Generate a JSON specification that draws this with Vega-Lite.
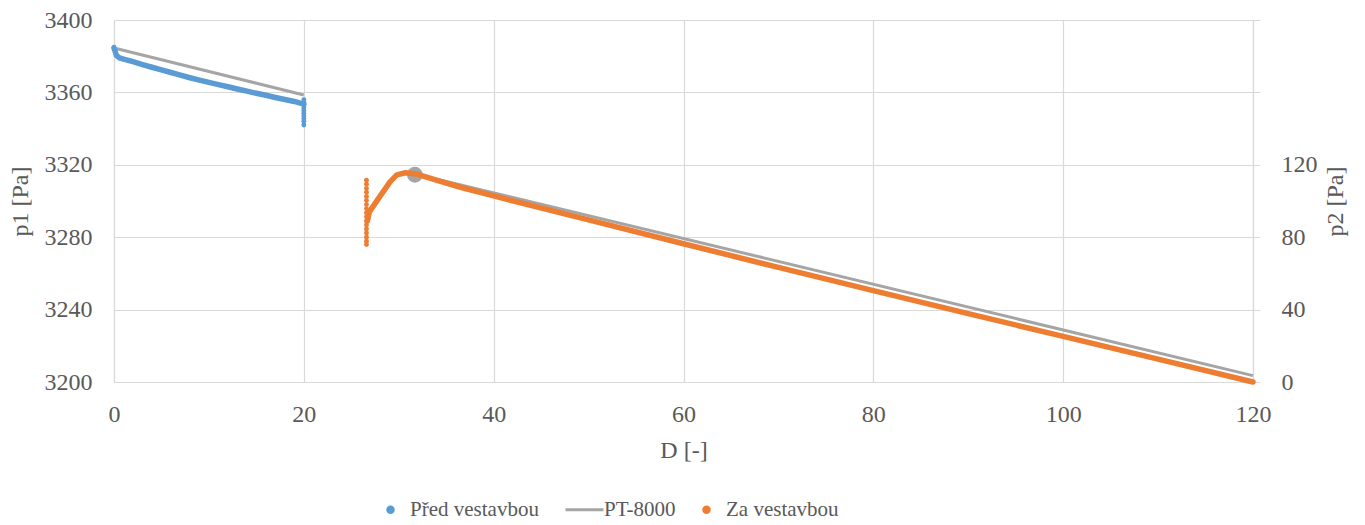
{
  "$schema": "https://vega.github.io/schema/vega-lite/v6.json",
  "width": 1139,
  "height": 362,
  "autosize": "none",
  "padding": {"left": 114, "top": 20, "right": 112, "bottom": 143},
  "background": "white",
  "config": {
    "view": {"stroke": null},
    "font": "Liberation Serif",
    "axis": {
      "labelFont": "Liberation Serif",
      "titleFont": "Liberation Serif",
      "labelFontSize": 24,
      "titleFontSize": 24,
      "titleFontWeight": "normal",
      "labelColor": "#595959",
      "titleColor": "#595959",
      "gridColor": "#d9d9d9",
      "domainColor": "#d9d9d9",
      "tickColor": "#d9d9d9",
      "gridWidth": 1.2,
      "domainWidth": 1.2,
      "labelFlush": false
    },
    "legend": {"labelFont": "Liberation Serif"}
  },
  "datasets": {
    "gray": [
      {"series": "PT-8000", "seg": "a", "D": 0, "p": 3384.5},
      {"series": "PT-8000", "seg": "a", "D": 20, "p": 3358.6},
      {"series": "PT-8000", "seg": "b", "D": 31.7, "p": 3315},
      {"series": "PT-8000", "seg": "b", "D": 120, "p": 3203.5}
    ],
    "marker": [
      {"series": "PT-8000", "D": 31.7, "p": 3314.5}
    ],
    "beforeLine": [
      {"series": "Před vestavbou", "D": 0, "p": 3384.5},
      {"series": "Před vestavbou", "D": 0.1, "p": 3383},
      {"series": "Před vestavbou", "D": 0.25, "p": 3380.5},
      {"series": "Před vestavbou", "D": 0.6, "p": 3379},
      {"series": "Před vestavbou", "D": 1, "p": 3378.4},
      {"series": "Před vestavbou", "D": 2, "p": 3377.0},
      {"series": "Před vestavbou", "D": 3, "p": 3375.4},
      {"series": "Před vestavbou", "D": 4, "p": 3373.9},
      {"series": "Před vestavbou", "D": 5, "p": 3372.4},
      {"series": "Před vestavbou", "D": 6, "p": 3371.0},
      {"series": "Před vestavbou", "D": 7, "p": 3369.5},
      {"series": "Před vestavbou", "D": 8, "p": 3368.1},
      {"series": "Před vestavbou", "D": 9, "p": 3366.8},
      {"series": "Před vestavbou", "D": 10, "p": 3365.5},
      {"series": "Před vestavbou", "D": 11, "p": 3364.3},
      {"series": "Před vestavbou", "D": 12, "p": 3363.1},
      {"series": "Před vestavbou", "D": 13, "p": 3361.9},
      {"series": "Před vestavbou", "D": 14, "p": 3360.7},
      {"series": "Před vestavbou", "D": 15, "p": 3359.5},
      {"series": "Před vestavbou", "D": 16, "p": 3358.4},
      {"series": "Před vestavbou", "D": 17, "p": 3357.2},
      {"series": "Před vestavbou", "D": 18, "p": 3356.1},
      {"series": "Před vestavbou", "D": 19, "p": 3355.0},
      {"series": "Před vestavbou", "D": 19.8, "p": 3353.8},
      {"series": "Před vestavbou", "D": 20, "p": 3353.5}
    ],
    "beforePts": [
      {"series": "Před vestavbou", "D": 0, "p": 3385},
      {"series": "Před vestavbou", "D": 20, "p": 3356},
      {"series": "Před vestavbou", "D": 20, "p": 3354.5},
      {"series": "Před vestavbou", "D": 20, "p": 3353},
      {"series": "Před vestavbou", "D": 20, "p": 3351.5},
      {"series": "Před vestavbou", "D": 20, "p": 3350},
      {"series": "Před vestavbou", "D": 20, "p": 3348.5},
      {"series": "Před vestavbou", "D": 20, "p": 3347},
      {"series": "Před vestavbou", "D": 20, "p": 3345.5},
      {"series": "Před vestavbou", "D": 20, "p": 3344},
      {"series": "Před vestavbou", "D": 20, "p": 3342}
    ],
    "afterLine": [
      {"series": "Za vestavbou", "D": 26.7, "p2": 89},
      {"series": "Za vestavbou", "D": 26.9, "p2": 94},
      {"series": "Za vestavbou", "D": 28.0, "p2": 102.4},
      {"series": "Za vestavbou", "D": 29.1, "p2": 110.7},
      {"series": "Za vestavbou", "D": 29.8, "p2": 114.4},
      {"series": "Za vestavbou", "D": 30.7, "p2": 115.6},
      {"series": "Za vestavbou", "D": 31.9, "p2": 114.9},
      {"series": "Za vestavbou", "D": 34.4, "p2": 110.9},
      {"series": "Za vestavbou", "D": 36.5, "p2": 107.6},
      {"series": "Za vestavbou", "D": 40, "p2": 102.8},
      {"series": "Za vestavbou", "D": 50, "p2": 89.6},
      {"series": "Za vestavbou", "D": 60, "p2": 76.4},
      {"series": "Za vestavbou", "D": 70, "p2": 63.3},
      {"series": "Za vestavbou", "D": 80, "p2": 50.5},
      {"series": "Za vestavbou", "D": 90, "p2": 37.8},
      {"series": "Za vestavbou", "D": 100, "p2": 25.2},
      {"series": "Za vestavbou", "D": 110, "p2": 12.6},
      {"series": "Za vestavbou", "D": 120, "p2": 0}
    ],
    "afterPts": [
      {"series": "Za vestavbou", "D": 26.6, "p2": 111.5},
      {"series": "Za vestavbou", "D": 26.6, "p2": 109.3},
      {"series": "Za vestavbou", "D": 26.6, "p2": 107},
      {"series": "Za vestavbou", "D": 26.6, "p2": 104.8},
      {"series": "Za vestavbou", "D": 26.6, "p2": 102.5},
      {"series": "Za vestavbou", "D": 26.6, "p2": 100.3},
      {"series": "Za vestavbou", "D": 26.6, "p2": 98},
      {"series": "Za vestavbou", "D": 26.6, "p2": 95.8},
      {"series": "Za vestavbou", "D": 26.6, "p2": 93.5},
      {"series": "Za vestavbou", "D": 26.6, "p2": 91.3},
      {"series": "Za vestavbou", "D": 26.6, "p2": 89},
      {"series": "Za vestavbou", "D": 26.6, "p2": 86.8},
      {"series": "Za vestavbou", "D": 26.6, "p2": 84.5},
      {"series": "Za vestavbou", "D": 26.6, "p2": 82.3},
      {"series": "Za vestavbou", "D": 26.6, "p2": 80},
      {"series": "Za vestavbou", "D": 26.6, "p2": 77.8},
      {"series": "Za vestavbou", "D": 26.6, "p2": 76}
    ]
  },
  "encoding": {
    "x": {
      "field": "D",
      "type": "quantitative",
      "scale": {"domain": [0, 120], "nice": false},
      "axis": {
        "values": [0, 20, 40, 60, 80, 100, 120],
        "ticks": false,
        "labelPadding": 20,
        "title": "D [-]",
        "titlePadding": 12,
        "grid": true
      }
    }
  },
  "layer": [
    {
      "encoding": {
        "y": {
          "field": "p",
          "type": "quantitative",
          "scale": {"domain": [3200, 3400], "nice": false, "zero": false},
          "axis": {
            "orient": "left",
            "values": [3200, 3240, 3280, 3320, 3360, 3400],
            "format": "d",
            "ticks": false,
            "labelPadding": 22,
            "title": "p1 [Pa]",
            "titlePadding": 12,
            "grid": true
          }
        }
      },
      "layer": [
        {
          "data": {"name": "gray"},
          "mark": {"type": "line", "strokeWidth": 3},
          "encoding": {
            "detail": {"field": "seg"},
            "color": {
              "field": "series",
              "type": "nominal",
              "scale": {"domain": ["Před vestavbou", "PT-8000", "Za vestavbou"], "range": ["#5b9bd5", "#a5a5a5", "#ed7d31"]},
              "legend": {
                "orient": "none",
                "legendX": 266,
                "legendY": 479,
                "direction": "horizontal",
                "title": null,
                "symbolSize": 1600,
                "labelFont": "Liberation Serif",
                "labelFontSize": 21,
                "labelColor": "#595959",
                "labelOffset": 9,
                "columnPadding": 20,
                "labelExpr": "datum.label == 'PT-8000' ? 'PT-8000\u00a0\u00a0\u00a0' : datum.label",
                "encode": {
                  "symbols": {
                    "update": {
                      "shape": {"signal": "datum.value === 'PT-8000' ? 'stroke' : 'circle'"},
                      "size": {"signal": "datum.value === 'PT-8000' ? 1444 : 30"},
                      "strokeWidth": {"value": 3},
                      "stroke": {"signal": "datum.value === 'PT-8000' ? '#a5a5a5' : 'transparent'"},
                      "fill": {"signal": "datum.value === 'Před vestavbou' ? '#5b9bd5' : (datum.value === 'Za vestavbou' ? '#ed7d31' : 'transparent')"},
                      "opacity": {"value": 1}
                    }
                  }
                }
              }
            }
          }
        },
        {
          "data": {"name": "marker"},
          "mark": {"type": "point", "filled": true, "size": 250, "opacity": 1, "color": "#a5a5a5"},
          "encoding": {}
        },
        {
          "data": {"name": "beforeLine"},
          "mark": {"type": "line", "strokeWidth": 5.5, "strokeCap": "round"},
          "encoding": {"color": {"field": "series", "type": "nominal"}}
        },
        {
          "data": {"name": "beforePts"},
          "mark": {"type": "point", "filled": true, "size": 24, "opacity": 1},
          "encoding": {"color": {"field": "series", "type": "nominal"}}
        }
      ]
    },
    {
      "encoding": {
        "y": {
          "field": "p2",
          "type": "quantitative",
          "scale": {"domain": [0, 200], "nice": false, "zero": false},
          "axis": {
            "orient": "right",
            "values": [0, 40, 80, 120, 160, 200],
            "labelExpr": "datum.value <= 120 ? datum.label : ''",
            "ticks": true,
            "tickSize": 7,
            "labelPadding": 21,
            "title": "p2 [Pa]",
            "titleAngle": 270,
            "titlePadding": 30,
            "grid": false
          }
        }
      },
      "layer": [
        {
          "data": {"name": "afterLine"},
          "mark": {"type": "line", "strokeWidth": 5.5, "strokeCap": "round", "strokeJoin": "round"},
          "encoding": {"color": {"field": "series", "type": "nominal"}}
        },
        {
          "data": {"name": "afterPts"},
          "mark": {"type": "point", "filled": true, "size": 24, "opacity": 1},
          "encoding": {"color": {"field": "series", "type": "nominal"}}
        }
      ]
    }
  ],
  "resolve": {"scale": {"y": "independent"}}
}
